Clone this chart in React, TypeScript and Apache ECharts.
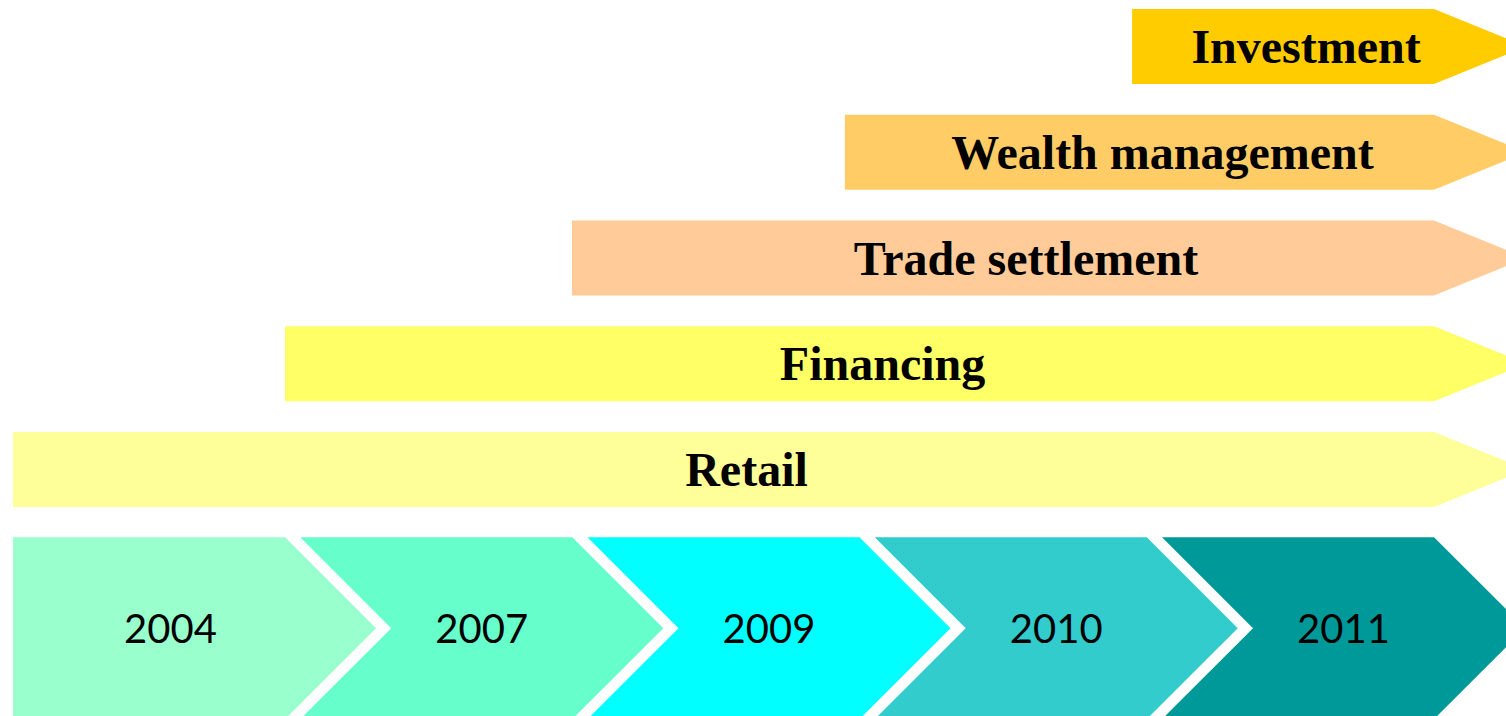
import React, { useEffect, useRef } from "react";
import * as echarts from "echarts";

// Timeline (bottom chevrons)
const years = ["2004", "2007", "2009", "2010", "2011"];
const yearSlots = [0, 1, 2, 3, 4];
const yearColors = ["#99FFCC", "#66FFCC", "#00FFFF", "#33CCCC", "#009999"];
const timelineRow = 5.5;

// Business lines (arrows), top to bottom
const businesses = ["Investment", "Wealth management", "Trade settlement", "Financing", "Retail"];
const businessRows = [0, 1, 2, 3, 4];
const businessStart = [3.896, 2.896, 1.946, 0.947, 0];
const businessEnd = [4.947, 4.947, 4.947, 4.947, 4.947];
const businessColors = ["#FFCC00", "#FFCC66", "#FFCC99", "#FFFF66", "#FFFF99"];

const W = 1506;
const H = 716;
const UNIT_X = 287.25;
const UNIT_Y = 105.75;

export default function App() {
  const ref = useRef<HTMLDivElement>(null);

  useEffect(() => {
    document.body.style.margin = "0";
    const chart = echarts.init(ref.current!, null, { renderer: "svg" });

    const timelineData = years.map((y, i) => [yearSlots[i], timelineRow, y, i]);
    const arrowData = businesses.map((b, k) => [businessStart[k], businessRows[k], businessEnd[k], b, k]);

    chart.setOption({
      animation: false,
      grid: { left: 0, right: 0, top: 0, bottom: 0 },
      xAxis: {
        type: "value",
        min: -13 / UNIT_X,
        max: (W - 13) / UNIT_X,
        show: false,
      },
      yAxis: {
        type: "value",
        inverse: true,
        min: -46.5 / UNIT_Y,
        max: (H - 46.5) / UNIT_Y,
        show: false,
      },
      series: [
        {
          type: "custom",
          clip: true,
          data: timelineData,
          renderItem: (params: any, api: any) => {
            const slot = api.value(0);
            const row = api.value(1);
            const idx = params.dataIndex;
            const p = api.coord([slot, row]);
            const pEnd = api.coord([slot + 0.947, row]);
            const x0 = p[0];
            const y = p[1];
            const bw = pEnd[0] - x0;
            const h = 91;
            const pts =
              idx === 0
                ? [
                    [x0, y - h],
                    [x0 + bw, y - h],
                    [x0 + bw + h, y],
                    [x0 + bw, y + h],
                    [x0, y + h],
                  ]
                : [
                    [x0, y - h],
                    [x0 + bw, y - h],
                    [x0 + bw + h, y],
                    [x0 + bw, y + h],
                    [x0, y + h],
                    [x0 + h, y],
                  ];
            const cx = x0 + (bw + h) / 2 - (idx === 0 ? 24 : 0);
            return {
              type: "group",
              children: [
                {
                  type: "polygon",
                  shape: { points: pts },
                  style: { fill: yearColors[idx] },
                },
                {
                  type: "text",
                  x: cx,
                  y: y,
                  style: {
                    text: years[idx],
                    fill: "#000",
                    font: "normal 40px Lato, 'Noto Sans', sans-serif",
                    align: "center",
                    verticalAlign: "middle",
                  },
                },
              ],
            };
          },
        },
        {
          type: "custom",
          clip: true,
          data: arrowData,
          renderItem: (params: any, api: any) => {
            const k = params.dataIndex;
            const p0 = api.coord([api.value(0), api.value(1)]);
            const p1 = api.coord([api.value(2), api.value(1)]);
            const x0 = p0[0];
            const x1 = p1[0];
            const y = p0[1];
            const hh = 37.5;
            const hl = 92;
            const pts = [
              [x0, y - hh],
              [x1, y - hh],
              [x1 + hl, y],
              [x1, y + hh],
              [x0, y + hh],
            ];
            return {
              type: "group",
              children: [
                {
                  type: "polygon",
                  shape: { points: pts },
                  style: { fill: businessColors[k] },
                },
                {
                  type: "text",
                  x: (x0 + x1) / 2 + hl / 4,
                  y: y,
                  style: {
                    text: businesses[k],
                    fill: "#000",
                    font: "bold 48px 'Liberation Serif', 'DejaVu Serif', serif",
                    align: "center",
                    verticalAlign: "middle",
                  },
                },
              ],
            };
          },
        },
      ],
    });

    return () => chart.dispose();
  }, []);

  return <div ref={ref} style={{ width: W, height: H }} />;
}
